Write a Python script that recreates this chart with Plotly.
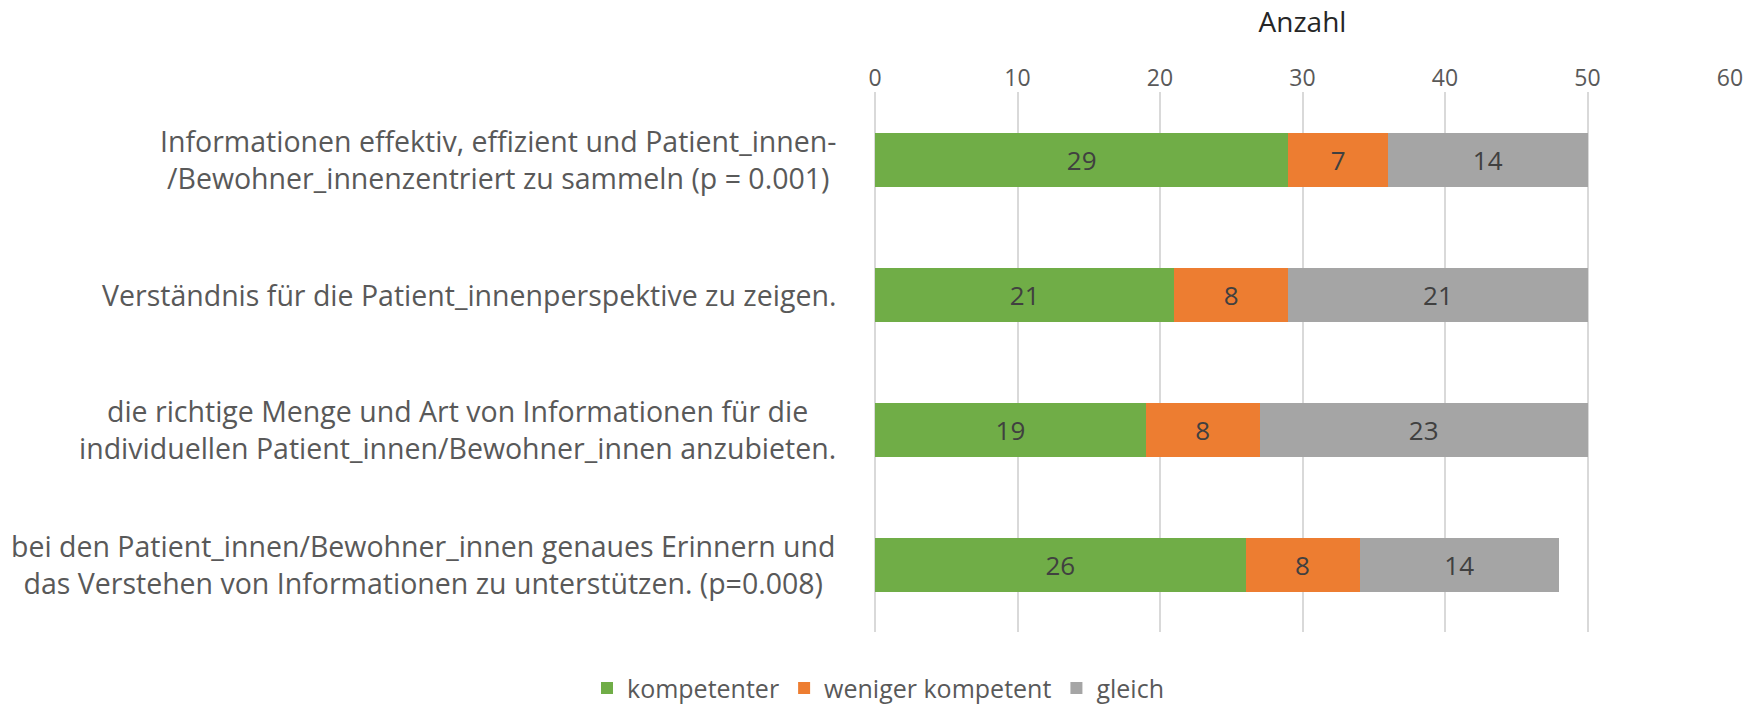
import plotly.graph_objects as go

# --- Data ---
categories = [
    "Informationen effektiv, effizient und Patient_innen-<br>/Bewohner_innenzentriert zu sammeln (p = 0.001)",
    "Verständnis für die Patient_innenperspektive zu zeigen.",
    "die richtige Menge und Art von Informationen für die<br>individuellen Patient_innen/Bewohner_innen anzubieten.",
    "bei den Patient_innen/Bewohner_innen genaues Erinnern und<br>das Verstehen von Informationen zu unterstützen. (p=0.008)",
]
series_names = ["kompetenter", "weniger kompetent", "gleich"]
kompetenter = [29, 21, 19, 26]
weniger_kompetent = [7, 8, 8, 8]
gleich = [14, 21, 23, 14]
x_ticks = [0, 10, 20, 30, 40, 50, 60]

colors = ["#70AD47", "#ED7D31", "#A5A5A5"]
FONT = "Open Sans, sans-serif"

fig = go.Figure()
for name, vals, col in zip(series_names, [kompetenter, weniger_kompetent, gleich], colors):
    fig.add_trace(go.Bar(
        y=categories, x=vals, name=name, orientation='h',
        marker=dict(color=col, line=dict(width=0)),
        text=vals, textposition='inside', insidetextanchor='middle',
        textfont=dict(size=26, color='#404040', family=FONT),
    ))

# Category labels (centered lines, right-aligned block)
annotations = []
for cat in categories:
    annotations.append(dict(
        x=0, y=cat, xref='paper', yref='y', xanchor='right', yanchor='middle',
        xshift=-37, text=cat, showarrow=False, align='center',
        font=dict(size=28.5, color='#595959', family=FONT),
    ))

fig.update_layout(
    barmode='stack',
    bargap=0.6,
    width=1756, height=706,
    margin=dict(l=875, r=26, t=92, b=74),
    plot_bgcolor='white', paper_bgcolor='white',
    font=dict(family=FONT, color='#595959'),
    xaxis=dict(
        side='top', range=[0, 60], tickvals=x_ticks,
        showgrid=True, gridcolor='#D9D9D9', gridwidth=2,
        zeroline=True, zerolinecolor='#D9D9D9', zerolinewidth=2,
        showline=False, ticks='',
        tickfont=dict(size=23, color='#595959'),
        title=dict(text='Anzahl', font=dict(size=28, color='#262626'), standoff=20),
    ),
    yaxis=dict(
        autorange='reversed', showticklabels=False, showgrid=False,
        zeroline=False, showline=False,
    ),
    legend=dict(
        orientation='h', xref='container', yref='container',
        x=0.5, xanchor='center', y=0.025, yanchor='middle',
        font=dict(size=25, color='#595959'),
        traceorder='normal', itemwidth=30,
    ),
    annotations=annotations,
    showlegend=True,
)

fig.write_html("out.html", config={'displayModeBar': False},
               post_script="document.body.style.margin='0';document.body.style.overflow='hidden';")
